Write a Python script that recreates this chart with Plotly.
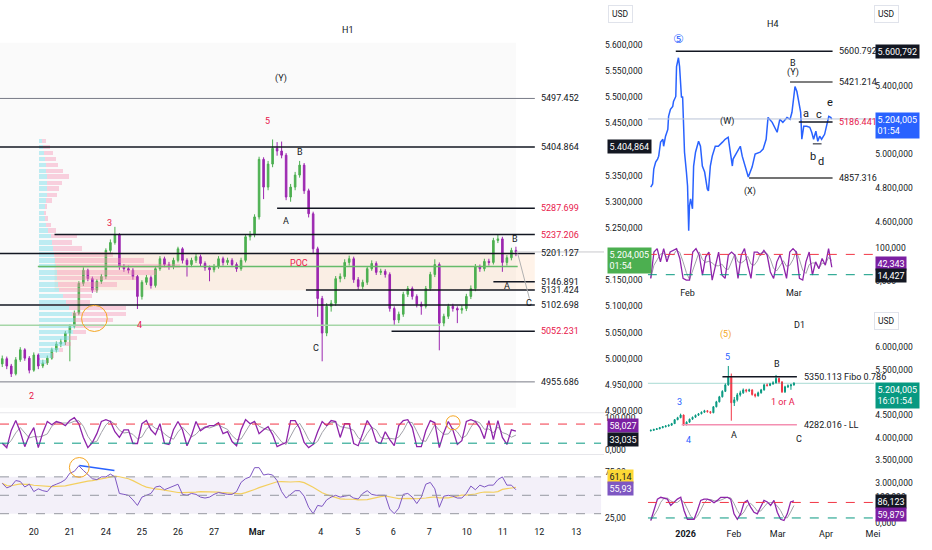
#!/usr/bin/env python3

import numpy as np
import pandas as pd
import plotly.graph_objects as go

W, H = 932, 550
FONT = "Roboto, Liberation Sans, sans-serif"
INK = "#131722"
RED_TXT = "#e8174b"

# ---------------- H1 (left chart) ----------------
h1_first_open = 4990
h1_close = [5000, 4986, 4971, 4998, 5017, 5001, 4978, 5007, 4986, 4992,
            5001, 5017, 5028, 5032, 5049, 5062, 5087, 5144, 5169, 5153,
            5131, 5148, 5157, 5207, 5222, 5237, 5176, 5172, 5169, 5157,
            5119, 5146, 5155, 5140, 5172, 5191, 5180, 5176, 5188, 5210,
            5188, 5180, 5188, 5195, 5182, 5174, 5170, 5176, 5191, 5184,
            5188, 5180, 5172, 5188, 5233, 5237, 5271, 5381, 5328, 5372,
            5402, 5397, 5389, 5309, 5328, 5351, 5370, 5321, 5277, 5210,
            5115, 5049, 5100, 5106, 5153, 5157, 5184, 5191, 5151, 5138,
            5146, 5172, 5182, 5165, 5167, 5161, 5096, 5074, 5085, 5123,
            5134, 5119, 5104, 5100, 5134, 5161, 5180, 5068, 5081, 5100,
            5096, 5093, 5096, 5119, 5134, 5176, 5172, 5186, 5184, 5226,
            5229, 5184, 5193, 5207, 5204]
h1_high = [5006, 5004, 4990, 5003, 5022, 5020, 5005, 5012, 5010, 4998,
           5006, 5021, 5033, 5038, 5053, 5066, 5092, 5148, 5175, 5172,
           5157, 5152, 5162, 5211, 5228, 5252, 5240, 5181, 5178, 5173,
           5160, 5150, 5160, 5159, 5176, 5196, 5195, 5185, 5193, 5214,
           5213, 5192, 5193, 5200, 5199, 5186, 5178, 5181, 5196, 5195,
           5193, 5192, 5184, 5193, 5238, 5244, 5276, 5386, 5385, 5378,
           5419, 5414, 5415, 5393, 5334, 5357, 5378, 5374, 5325, 5281,
           5214, 5120, 5106, 5112, 5158, 5163, 5190, 5197, 5195, 5156,
           5151, 5177, 5188, 5186, 5172, 5171, 5165, 5100, 5090, 5128,
           5139, 5138, 5123, 5109, 5139, 5166, 5190, 5184, 5086, 5105,
           5105, 5100, 5102, 5124, 5140, 5181, 5180, 5191, 5191, 5231,
           5238, 5233, 5198, 5212, 5214]
h1_low = [4984, 4980, 4965, 4968, 4994, 4996, 4972, 4975, 4980, 4982,
          4988, 4998, 5012, 5022, 5026, 4995, 5058, 5083, 5139, 5148,
          5126, 5126, 5143, 5152, 5202, 5218, 5170, 5166, 5163, 5151,
          5095, 5113, 5141, 5134, 5136, 5168, 5175, 5170, 5171, 5184,
          5182, 5157, 5175, 5183, 5176, 5168, 5148, 5165, 5172, 5178,
          5179, 5175, 5166, 5168, 5184, 5226, 5232, 5266, 5305, 5322,
          5366, 5388, 5383, 5303, 5300, 5322, 5346, 5315, 5270, 5202,
          5080, 4995, 5043, 5090, 5101, 5146, 5152, 5178, 5145, 5132,
          5133, 5141, 5168, 5160, 5160, 5155, 5090, 5064, 5068, 5080,
          5118, 5113, 5098, 5084, 5096, 5130, 5156, 5016, 5062, 5076,
          5090, 5068, 5086, 5091, 5114, 5129, 5166, 5167, 5178, 5180,
          5221, 5166, 5178, 5188, 5196]
h1_stoch_k = [20, 6, 60, 91, 56, 9, 44, 69, 6, 53,
              88, 78, 88, 84, 75, 91, 100, 81, 38, 6,
              22, 50, 88, 94, 88, 56, 38, 62, 62, 19,
              19, 81, 91, 62, 47, 81, 19, 16, 62, 88,
              62, 12, 44, 88, 59, 69, 75, 75, 84, 50,
              56, 25, 12, 62, 94, 81, 88, 50, 62, 72,
              47, 9, 16, 22, 91, 91, 66, 22, 6, 16,
              56, 88, 75, 91, 88, 38, 81, 81, 19, 12,
              50, 91, 69, 25, 19, 56, 31, 12, 75, 91,
              94, 69, 9, 9, 59, 91, 84, 6, 53, 88,
              62, 16, 28, 88, 94, 88, 69, 34, 91, 31,
              91, 38, 16, 62, 58]
h1_rsi = [63, 58, 60, 66, 65, 59, 62, 54, 57, 55,
          54, 60, 62, 64, 67, 74, 76, 82, 77, 72,
          68, 67, 70, 70, 73, 70, 52, 51, 50, 45,
          39, 48, 50, 52, 59, 60, 56, 58, 60, 62,
          51, 50, 52, 51, 48, 47, 48, 51, 53, 52,
          51, 51, 54, 64, 68, 70, 80, 80, 72, 73,
          72, 66, 54, 47, 51, 55, 55, 49, 37, 30,
          39, 38, 45, 48, 50, 48, 49, 50, 47, 46,
          52, 55, 51, 50, 50, 50, 35, 30, 36, 51,
          52, 48, 41, 48, 62, 64, 57, 37, 49, 50,
          49, 47, 47, 52, 60, 56, 61, 59, 61, 61,
          67, 70, 61, 61, 56]
h1_tick_pos = [7, 15, 23, 31, 39, 47, 56.5, 70.7, 78.9, 86.8, 94.8, 103.1, 111.1, 119.2, 127.4]
h1_tick_text = ["20", "21", "24", "25", "26", "27", "<b>Mar</b>", "4", "5", "6", "7",
                "10", "11", "12", "13"]
h1_levels = [5497.452, 5404.864, 5287.699, 5237.206, 5201.127,
             5146.891, 5131.424, 5102.698, 5052.231, 4955.686]
h1_poc = 5176.2
h1_green_level = 5064.0

# volume profile (price rows, buy / sell volume)
profile_price = [5416, 5405, 5393, 5382, 5370, 5359, 5348, 5336, 5325, 5313,
                 5302, 5291, 5279, 5268, 5256, 5245, 5234, 5222, 5211, 5199,
                 5188, 5177, 5165, 5154, 5142, 5131, 5120, 5108, 5097, 5085,
                 5074, 5063, 5051, 5040, 5028, 5017, 5006, 4994]
profile_buy = [3, 4, 5, 6, 7, 7, 8, 8, 8, 8,
               7, 6, 5, 6, 7, 9, 12, 13, 14, 15,
               16, 17, 18, 18, 19, 20, 24, 27, 30, 33,
               35, 36, 34, 30, 26, 20, 13, 7]
profile_sell = [4, 7, 9, 11, 12, 17, 22, 15, 12, 10,
                6, 2, 2, 3, 5, 8, 26, 20, 30, 60,
                90, 125, 100, 80, 60, 40, 30, 25, 58, 55,
                40, 30, 14, 8, 6, 4, 2, 1]

# ---------------- H4 (top right) ----------------
h4_day = [-9.7, -9.2, -8.9, -8.4, -7.9, -7.6, -7.1, -6.5, -6.3, -5.8,
          -5.2, -5.0, -4.5, -3.9, -3.7, -3.1, -2.9, -2.4, -2.1, -1.6,
          -1.3, -1.0, -0.8, -0.3, 0.0, 0.3, 0.5, 0.8, 1.3, 1.6,
          2.1, 2.9, 3.4, 3.9, 4.5, 5.2, 5.5, 6.0, 6.5, 7.3,
          8.1, 9.2, 9.9, 10.7, 11.8, 12.0, 13.1, 13.9, 14.4, 15.2,
          16.0, 17.0, 17.8, 19.1, 19.9, 20.7, 21.2, 22.3, 23.0, 23.6,
          24.3, 25.1, 26.2, 27.0, 27.5, 28.3, 28.8, 29.3, 29.8, 30.1,
          30.6, 31.4, 32.2, 32.7, 33.2, 33.8, 34.3, 34.8, 35.3, 36.1,
          36.6, 37.2, 37.7, 38.0]
h4_price = [4805, 4823, 4910, 4951, 4969, 4986, 5068, 5085, 5044, 5103,
            5143, 5219, 5260, 5278, 5307, 5336, 5511, 5563, 5511, 5330,
            5336, 5126, 5009, 4893, 4811, 4549, 4694, 4735, 4677, 4928,
            5009, 5073, 5044, 4928, 4893, 4794, 4782, 4928, 4986, 5044,
            5044, 5068, 5085, 5097, 4928, 4969, 5009, 5044, 4986, 4928,
            4864, 4922, 4998, 5009, 5027, 5085, 5213, 5184, 5155, 5126,
            5202, 5184, 5213, 5202, 5243, 5394, 5365, 5301, 5243, 5085,
            5161, 5161, 5155, 5126, 5085, 5132, 5073, 5103, 5085, 5114,
            5161, 5219, 5213, 5204]
h4_stoch_k = [9, 87, 97, 58, 97, 58, 87, 92, 97, 68,
              9, 4, 4, 87, 97, 78, 19, 73, 87, 4,
              48, 87, 19, 9, 78, 87, 78, 9, 78, 97,
              48, 9, 87, 87, 78, 92, 78, 28, 9, 58,
              78, 48, 9, 87, 97, 87, 9, 4, 58, 87,
              19, 58, 38, 68, 48, 97, 42]
h4_levels = [5600.792, 5421.214, 5186.441, 4857.316]

# ---------------- D1 (bottom right) ----------------
d1_first_open = 4150
d1_close = [4160, 4180, 4193, 4219, 4241, 4257, 4275, 4308, 4396, 4440,
            4500, 4286, 4341, 4407, 4451, 4495, 4528, 4562, 4595, 4573,
            4551, 4683, 4793, 4904, 5025, 5169, 5345, 4771, 4838, 4948,
            4992, 5058, 5036, 5058, 4955, 4926, 4992, 5058, 5169, 5158,
            5191, 5213, 5312, 5235, 5014, 5125, 5147, 5169, 5204]
d1_high = [4180, 4195, 4210, 4235, 4255, 4275, 4290, 4325, 4410, 4460,
           4530, 4510, 4360, 4420, 4465, 4510, 4545, 4580, 4615, 4610,
           4590, 4700, 4815, 4925, 5050, 5200, 5588, 5420, 4900, 4990,
           5040, 5090, 5080, 5085, 5070, 4980, 5020, 5080, 5195, 5200,
           5215, 5250, 5390, 5330, 5250, 5150, 5180, 5190, 5230]
d1_low = [4135, 4150, 4170, 4185, 4205, 4225, 4240, 4262, 4300, 4385,
          4430, 4260, 4270, 4330, 4395, 4440, 4480, 4515, 4550, 4555,
          4530, 4540, 4670, 4780, 4890, 5010, 5150, 4374, 4700, 4800,
          4910, 4970, 5000, 5010, 4930, 4890, 4910, 4975, 5040, 5130,
          5140, 5170, 5200, 5200, 4990, 4990, 5100, 5060, 5150]
d1_stoch_k = [10, 49, 93, 100, 97, 93, 68, 79, 93, 100,
              49, 15, 15, 15, 49, 88, 93, 93, 88, 79,
              88, 100, 100, 100, 93, 36, 15, 36, 79, 88,
              62, 42, 36, 62, 88, 82, 68, 88, 42, 15,
              10, 36, 82, 86]
d1_levels = [5350.113, 4282.016]


def hline(fig, xref, yref, x0, x1, y, color=INK, width=1.5, dash="solid", layer="above"):
    fig.add_shape(type="line", xref=xref, yref=yref, x0=x0, x1=x1, y0=y, y1=y,
                  line=dict(color=color, width=width, dash=dash), layer=layer)


def text(fig, xref, yref, x, y, s, color=INK, size=9, xanchor="center", family=FONT):
    fig.add_annotation(xref=xref, yref=yref, x=x, y=y, text=s, showarrow=False,
                       font=dict(family=family, size=size, color=color), xanchor=xanchor)


def axis_box(fig, x_px, yref, y, s, bg, fg="white", yanchor="middle"):
    fig.add_annotation(xref="paper", yref=yref, x=x_px / W, y=y, text=s, showarrow=False,
                       bgcolor=bg, font=dict(family=FONT, size=9, color=fg),
                       xanchor="left", yanchor=yanchor, align="left", borderpad=1.5)


def usd_box(fig, x_px, y_px):
    fig.add_annotation(xref="paper", yref="paper", x=x_px / W, y=1 - y_px / H, text="USD",
                       showarrow=False, bgcolor="white", bordercolor="#e0e3eb", borderwidth=1,
                       borderpad=3, font=dict(family=FONT, size=8.5, color=INK),
                       xanchor="left", yanchor="top")


def add_h1(fig):
    idx = np.arange(len(h1_close))
    h1_open = [h1_first_open] + h1_close[:-1]

    # volume profile on an overlaid x axis
    fig.add_trace(go.Bar(y=profile_price, x=profile_buy, orientation="h", width=8.5,
                         marker=dict(color="rgba(128,222,234,0.5)", line=dict(width=0)),
                         xaxis="x4", yaxis="y", hoverinfo="skip"))
    fig.add_trace(go.Bar(y=profile_price, x=profile_sell, orientation="h", width=8.5,
                         marker=dict(color="rgba(244,143,177,0.4)", line=dict(width=0)),
                         xaxis="x4", yaxis="y", hoverinfo="skip"))

    fig.add_trace(go.Candlestick(
        x=idx, open=h1_open, high=h1_high, low=h1_low, close=h1_close,
        increasing=dict(line=dict(color="#4caf50", width=1), fillcolor="#4caf50"),
        decreasing=dict(line=dict(color="#9c27b0", width=1), fillcolor="#9c27b0"),
        xaxis="x", yaxis="y"))

    k = pd.Series(h1_stoch_k)
    fig.add_trace(go.Scatter(x=idx, y=k.rolling(3, min_periods=1).mean(), mode="lines",
                             line=dict(color="#a0a0a8", width=1), xaxis="x2", yaxis="y2"))
    fig.add_trace(go.Scatter(x=idx, y=k, mode="lines",
                             line=dict(color="#8e24aa", width=1.3), xaxis="x2", yaxis="y2"))

    rsi = pd.Series(h1_rsi)
    fig.add_trace(go.Scatter(x=idx, y=rsi.rolling(14, min_periods=1).mean(), mode="lines",
                             line=dict(color="#f3cf5f", width=1.2), xaxis="x3", yaxis="y3"))
    fig.add_trace(go.Scatter(x=idx, y=rsi, mode="lines",
                             line=dict(color="#7e57c2", width=1), xaxis="x3", yaxis="y3"))

    # shading
    fig.add_shape(type="rect", xref="x", yref="y", x0=-0.5, x1=114, y0=4906, y1=5604,
                  fillcolor="#fafafa", line=dict(width=0), layer="below")
    fig.add_shape(type="rect", xref="x", yref="y", x0=11.6, x1=118.2, y0=5131, y1=5203,
                  fillcolor="rgba(255,183,120,0.16)", line=dict(width=0), layer="below")

    starts = [-0.5, -0.5, 61, 11.6, -0.5, 109, 67.4, -0.5, 86.4, -0.5]
    label_red = [False, False, True, True, False, False, False, False, True, False]
    for lvl, x0, red in zip(h1_levels, starts, label_red):
        thin = lvl in (5497.452, 4955.686)
        hline(fig, "x", "y", x0, 118.2, lvl, color="#787b86" if thin else INK,
              width=1 if thin else 1.5)
        text(fig, "x", "y", 119.2, lvl, f"{lvl:.3f}", color=RED_TXT if red else INK,
             size=9, xanchor="left")
    hline(fig, "x", "y", 7.9, 114.4, h1_poc, color="#66bb6a", width=1.5)
    hline(fig, "x", "y", -0.5, 97.2, h1_green_level, color="#a5d6a7", width=1.5)
    hline(fig, "x", "y", 114, 133.57, 5204.005, color="#c8c8cc", width=1)
    fig.add_shape(type="line", xref="x", yref="y", x0=114.4, x1=117, y0=5201, y1=5115,
                  line=dict(color="#b0b0b0", width=1))
    fig.add_shape(type="circle", xref="x", yref="y", x0=17.6, x1=23.3, y0=5052, y1=5102,
                  line=dict(color="#f5a623", width=1))

    labels = [(76.7, 5628, "H1", INK), (61.9, 5535, "(Y)", INK), (58.8, 5455, "5", RED_TXT),
              (66.1, 5395, "B", INK), (63.0, 5263, "A", INK), (23.8, 5260, "3", RED_TXT),
              (30.4, 5064, "4", RED_TXT), (6.6, 4929, "2", RED_TXT), (65.8, 5182, "POC", RED_TXT),
              (69.6, 5020, "C", INK), (113.9, 5228, "B", INK), (112.0, 5138, "A", INK),
              (116.8, 5106, "C", INK)]
    for x, y, s, c in labels:
        text(fig, "x", "y", x, y, s, color=c, size=9)

    # stoch bands
    hline(fig, "x2", "y2", -0.5, 132.9, 80, color="#f23645", width=1, dash="dash")
    hline(fig, "x2", "y2", -0.5, 132.9, 20, color="#089981", width=1, dash="dash")
    fig.add_shape(type="circle", xref="x2", yref="y2", x0=98.5, x1=101.6, y0=62, y1=106,
                  line=dict(color="#f5a623", width=1))
    # rsi band
    fig.add_shape(type="rect", xref="x3", yref="y3", x0=-0.5, x1=132.9, y0=30, y1=70,
                  fillcolor="rgba(126,87,194,0.09)", line=dict(width=0), layer="below")
    for lvl in (70, 50, 30):
        hline(fig, "x3", "y3", -0.5, 132.9, lvl, color="#9598a1", width=1, dash="dash")
    fig.add_shape(type="line", xref="x3", yref="y3", x0=17.1, x1=24.9, y0=82.4, y1=77,
                  line=dict(color="#2962ff", width=1.5))
    fig.add_shape(type="circle", xref="x3", yref="y3", x0=14.9, x1=19.3, y0=69.5, y1=91,
                  line=dict(color="#f5a623", width=1))

    # pane separators
    for ypx in (415, 457):
        fig.add_shape(type="line", xref="paper", yref="paper", x0=0, x1=608 / W,
                      y0=1 - ypx / H, y1=1 - ypx / H, line=dict(color="#e6e6ea", width=1))

    axis_box(fig, 611, "y", 5404.864, "5.404,864", "#131722")
    axis_box(fig, 611, "y", 5213, "5.204,005<br>01:54", "#4caf50", yanchor="top")
    axis_box(fig, 611, "y2", 75, "58,027", "#7b1fa2")
    axis_box(fig, 611, "y2", 31, "33,035", "#131722")
    axis_box(fig, 611, "y3", 70.5, "61,14", "#fdd835", fg=INK)
    axis_box(fig, 611, "y3", 57.6, "55,93", "#7e57c2")
    usd_box(fig, 612, 5)


def add_h4(fig):
    fig.add_trace(go.Scatter(x=h4_day, y=h4_price, mode="lines",
                             line=dict(color="#2962ff", width=1.5), xaxis="x5", yaxis="y5"))
    hline(fig, "x5", "y5", -10.47, 49.2, 5204.005, color="#b9c3d6", width=1)

    starts = [-3.1, 27.0, 29.3, 16.2]
    colors = [INK, "#555555", INK, "#444444"]
    for lvl, x0, c in zip(h4_levels, starts, colors):
        hline(fig, "x5", "y5", x0, 38.2, lvl, color=c, width=1.5)
        text(fig, "x5", "y5", 39.3, lvl, f"{lvl:.3f}",
             color=RED_TXT if lvl == 5186.441 else INK, size=9, xanchor="left")
    hline(fig, "x5", "y5", 33.0, 35.3, 5058, color=INK, width=1)

    labels = [(22.5, 5761, "H4", 9), (27.7, 5534, "B", 9), (27.7, 5476, "(Y)", 9),
              (37.4, 5301, "e", 11), (31.2, 5237, "a", 11), (34.6, 5231, "c", 11),
              (10.5, 5190, "(W)", 9), (33.0, 4986, "b", 11), (35.1, 4957, "d", 11),
              (16.5, 4776, "(X)", 9)]
    for x, y, s, sz in labels:
        text(fig, "x5", "y5", x, y, s, size=sz)
    text(fig, "x5", "y5", -2.4, 5674, "⑤", color="#2962ff", size=12,
         family="DejaVu Sans, Noto Sans CJK JP")

    sd = np.linspace(-9.7, 38.0, len(h4_stoch_k))
    k = pd.Series(h4_stoch_k)
    fig.add_trace(go.Scatter(x=sd, y=k.rolling(3, min_periods=1).mean(), mode="lines",
                             line=dict(color="#a0a0a8", width=1), xaxis="x6", yaxis="y6"))
    fig.add_trace(go.Scatter(x=sd, y=k, mode="lines",
                             line=dict(color="#8e24aa", width=1.3), xaxis="x6", yaxis="y6"))
    hline(fig, "x6", "y6", -10.47, 49.2, 80, color="#f23645", width=1, dash="dash")
    hline(fig, "x6", "y6", -10.47, 49.2, 20, color="#089981", width=1, dash="dash")

    axis_box(fig, 881, "y5", 5600.792, "5.600,792", "#131722")
    axis_box(fig, 881, "y5", 5243, "5.204,005<br>01:54", "#2962ff", yanchor="top")
    axis_box(fig, 881, "y6", 53, "42,343", "#7b1fa2")
    axis_box(fig, 881, "y6", 17.6, "14,427", "#131722")
    usd_box(fig, 880, 5)


def add_d1(fig):
    days = np.linspace(-22.3, 69.4, len(d1_close))
    d1_open = [d1_first_open] + d1_close[:-1]
    fig.add_trace(go.Candlestick(
        x=days, open=d1_open, high=d1_high, low=d1_low, close=d1_close,
        increasing=dict(line=dict(color="#089981", width=1), fillcolor="#089981"),
        decreasing=dict(line=dict(color="#f23645", width=1), fillcolor="#f23645"),
        xaxis="x7", yaxis="y7"))
    hline(fig, "x7", "y7", -24.2, 120.9, 5204.005, color="rgba(8,153,129,0.35)", width=1)
    hline(fig, "x7", "y7", 23.6, 71.3, d1_levels[0], color=INK, width=1.5)
    hline(fig, "x7", "y7", -2.5, 71.3, d1_levels[1], color="#f48fb1", width=1.5)
    text(fig, "x7", "y7", 74.5, d1_levels[0], f"{d1_levels[0]:.3f} Fibo 0.786", xanchor="left")
    text(fig, "x7", "y7", 74.5, d1_levels[1], f"{d1_levels[1]:.3f} - LL", xanchor="left")

    labels = [(73.2, 6494, "D1", INK), (25.5, 6295, "(5)", "#f5a623"), (26.7, 5787, "5", "#2962ff"),
              (-3.8, 4793, "3", "#2962ff"), (1.9, 3954, "4", "#2962ff"), (31.2, 4065, "A", INK),
              (58.6, 5632, "B", INK), (72.6, 3976, "C", INK), (62.4, 4793, "1 or A", RED_TXT)]
    for x, y, s, c in labels:
        text(fig, "x7", "y7", x, y, s, color=c, size=9)

    sd = np.linspace(-22.3, 69.4, len(d1_stoch_k))
    k = pd.Series(d1_stoch_k)
    fig.add_trace(go.Scatter(x=sd, y=k.rolling(3, min_periods=1).mean(), mode="lines",
                             line=dict(color="#a0a0a8", width=1), xaxis="x8", yaxis="y8"))
    fig.add_trace(go.Scatter(x=sd, y=k, mode="lines",
                             line=dict(color="#8e24aa", width=1.3), xaxis="x8", yaxis="y8"))
    hline(fig, "x8", "y8", -24.2, 120.9, 80, color="#f23645", width=1, dash="dash")
    hline(fig, "x8", "y8", -24.2, 120.9, 20, color="#089981", width=1, dash="dash")

    axis_box(fig, 881, "y7", 5235, "5.204,005<br>16:01:54", "#089981", yanchor="top")
    axis_box(fig, 881, "y8", 84.6, "86,123", "#131722")
    axis_box(fig, 881, "y8", 34.6, "59,879", "#7b1fa2")
    usd_box(fig, 880, 314)


def build_layout(fig):
    tick_font = dict(family=FONT, size=8.5, color=INK)
    xbase = dict(showgrid=False, zeroline=False, showline=False, ticks="",
                 showticklabels=False, fixedrange=True)
    ybase = dict(showgrid=False, zeroline=False, showline=False, ticks="", side="right",
                 tickfont=tick_font, fixedrange=True)
    h1_dom = [0, 608 / W]
    rd_dom = [652 / W, 880 / W]
    fig.update_layout(
        width=W, height=H, margin=dict(l=0, r=0, t=0, b=0),
        paper_bgcolor="white", plot_bgcolor="rgba(0,0,0,0)",
        showlegend=False, separators=",.", barmode="stack", bargap=0, boxgap=0.5,
        xaxis=dict(xbase, domain=h1_dom, range=[-0.5, 133.57], anchor="y",
                   rangeslider=dict(visible=False)),
        yaxis=dict(ybase, domain=[1 - 415 / H, 1], range=[4896.7, 5685.6], anchor="x",
                   tickvals=[v for v in range(4900, 5601, 50) if v not in (5200, 5400)],
                   tickformat=",.3f"),
        xaxis2=dict(xbase, domain=h1_dom, matches="x", anchor="y2"),
        yaxis2=dict(ybase, domain=[1 - 457 / H, 1 - 415 / H], range=[-15.6, 115.6], anchor="x2",
                    tickvals=[0, 100], tickformat=",.3f"),
        xaxis3=dict(xbase, domain=h1_dom, matches="x", anchor="y3", showticklabels=True,
                    tickvals=h1_tick_pos, ticktext=h1_tick_text,
                    tickfont=dict(family=FONT, size=9, color=INK)),
        yaxis3=dict(ybase, domain=[1 - 528 / H, 1 - 458 / H], range=[17.6, 93.2], anchor="x3",
                    tickvals=[25, 75], tickformat=".2f"),
        xaxis4=dict(xbase, overlaying="x", range=[-39, 569], anchor="y", visible=False),
        xaxis5=dict(xbase, domain=rd_dom, range=[-10.47, 49.2], anchor="y5"),
        yaxis5=dict(ybase, domain=[1 - 238 / H, 1], range=[4513.7, 5901.5], anchor="x5",
                    tickvals=[4600, 4800, 5000, 5400], tickformat=",.3f"),
        xaxis6=dict(xbase, domain=rd_dom, matches="x5", anchor="y6", showticklabels=True,
                    tickvals=[0, 28], ticktext=["Feb", "Mar"],
                    tickfont=dict(family=FONT, size=9, color=INK)),
        yaxis6=dict(ybase, domain=[1 - 288 / H, 1 - 244 / H], range=[-14.7, 114.7], anchor="x6",
                    tickvals=[0, 100], tickformat=",.3f"),
        xaxis7=dict(xbase, domain=rd_dom, range=[-24.2, 120.9], anchor="y7",
                    rangeslider=dict(visible=False)),
        yaxis7=dict(ybase, domain=[1 - 490 / H, 1 - 310 / H], range=[2895, 6868.6], anchor="x7",
                    tickvals=[3000, 3500, 4000, 4500, 5500, 6000], tickformat=",.3f"),
        xaxis8=dict(xbase, domain=rd_dom, matches="x7", anchor="y8", showticklabels=True,
                    tickvals=[0, 31, 59, 90, 120],
                    ticktext=["<b>2026</b>", "Feb", "Mar", "Apr", "Mei"],
                    tickfont=dict(family=FONT, size=9, color=INK)),
        yaxis8=dict(ybase, domain=[1 - 530 / H, 1 - 492 / H], range=[-15.4, 130.8], anchor="x8",
                    tickvals=[0, 100], tickformat=",.3f"),
    )


def main():
    fig = go.Figure()
    add_h1(fig)
    add_h4(fig)
    add_d1(fig)
    build_layout(fig)
    # the page's default body margin would push the 932x550 figure off the window
    fig.write_html("out.html", config={"displayModeBar": False},
                   post_script="document.body.style.margin='0';")


if __name__ == "__main__":
    main()
